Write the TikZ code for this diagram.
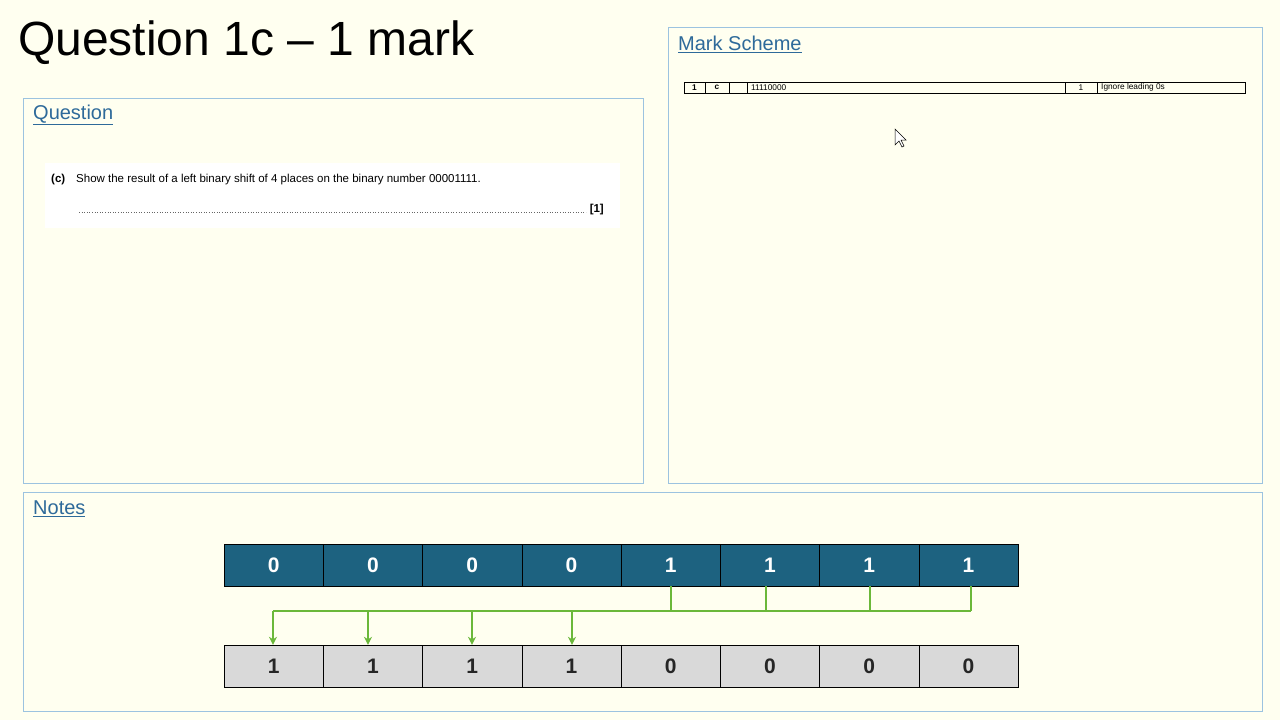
\documentclass[tikz,border=0pt]{standalone}
\usepackage{fontspec}
\setmainfont{Liberation Sans}
\usetikzlibrary{arrows.meta,calc}
\definecolor{bg}{HTML}{FFFFF0}
\definecolor{panel}{HTML}{9CC3E0}
\definecolor{head}{HTML}{2E6A9A}
\definecolor{topc}{HTML}{1D6280}
\definecolor{botc}{HTML}{D9D9D9}
\definecolor{grn}{HTML}{6BB83A}
\tikzset{
  pan/.style={draw=panel,line width=0.7pt},
  ptitle/.style={anchor=west,text=head,font=\fontsize{20}{22}\selectfont,inner sep=0pt},
  topcell/.style={draw=black,fill=topc,text=white,minimum width=99.25pt,minimum height=42pt,inner sep=0pt,font=\fontsize{21}{22}\selectfont\bfseries},
  botcell/.style={draw=black,fill=botc,text=black!85,minimum width=99.25pt,minimum height=42pt,inner sep=0pt,font=\fontsize{21}{22}\selectfont\bfseries},
  bus/.style={draw=grn,line width=2.5pt},
  tiny/.style={font=\fontsize{8.3}{9}\selectfont,inner sep=0pt}
}
\begin{document}
\begin{tikzpicture}[x=1pt,y=-1pt]
\fill[bg] (0,0) rectangle (1280,720);
\useasboundingbox (0,0) rectangle (1280,720);
\node[anchor=west,inner sep=0pt,font=\fontsize{48}{52}\selectfont] (title) at (18,43) {Question 1c -- 1 mark};
% panels
\draw[pan] (23,98) rectangle (643,483);
\draw[pan] (668,27) rectangle (1262,483);
\draw[pan] (23,492) rectangle (1262,711);
\node[ptitle] (qt) at (33,115) {\underline{Question}};
\node[ptitle] (mt) at (678,44) {\underline{Mark Scheme}};
\node[ptitle] (nt) at (33,509) {\underline{Notes}};
% question
\fill[white] (45,163) rectangle (620,228);
\node[anchor=west,inner sep=0pt,font=\fontsize{11.5}{13}\selectfont] (qc) at (51,180) {\textbf{(c)}};
\node[anchor=west,inner sep=0pt,font=\fontsize{11.5}{13}\selectfont] (qtext) at (76,180) {Show the result of a left binary shift of 4 places on the binary number 00001111.};
\draw[black!60,line width=0.6pt,dotted] (79,212) -- (586,212);
\node[anchor=east,inner sep=0pt,font=\fontsize{11.5}{13}\selectfont\bfseries] (qm) at (604,210) {[1]};
% mark scheme table
\draw[black,line width=0.6pt] (684,82) rectangle (1245,93);
\foreach \x in {705,729,747,1065,1097} \draw[black,line width=0.6pt] (\x,82) -- (\x,93);
\node[tiny] (m1) at (694.5,87.5) {\textbf{1}};
\node[tiny] (m2) at (717,87.5) {\textbf{c}};
\node[tiny,anchor=west] (m3) at (751,87.5) {11110000};
\node[tiny] (m4) at (1081,87.5) {1};
\node[tiny,anchor=west] (m5) at (1101,87.5) {Ignore leading 0s};
% cursor
\draw[black,fill=white,line width=0.5pt] (895,129) -- (895,145) -- (899,141) -- (902,147) -- (904,146) -- (901,140) -- (906,140) -- cycle;
% cells
\foreach \v [count=\i] in {0,0,0,0,1,1,1,1} {
  \node[topcell] (t\i) at ({224+99.25*(\i-0.5)},565) {\v};
}
\foreach \v [count=\i] in {1,1,1,1,0,0,0,0} {
  \node[botcell] (b\i) at ({224+99.25*(\i-0.5)},666) {\v};
}
% connectors
\coordinate (L) at (273,611);
\coordinate (R) at (971,611);
\draw[bus] (L) -- (R);
\draw[bus] (t5.south -| 671,0) -- (671,611);
\draw[bus] (t6.south -| 766,0) -- (766,611);
\draw[bus] (t7.south -| 870,0) -- (870,611);
\draw[bus] (t8.south -| 971,0) -- (R);
\foreach \x/\b in {273/b1,368/b2,472/b3,572/b4}
  \draw[bus,-{Stealth[length=8pt,width=8pt]}] (\x,611) -- (\b.north -| \x,0);
\end{tikzpicture}
\end{document}
